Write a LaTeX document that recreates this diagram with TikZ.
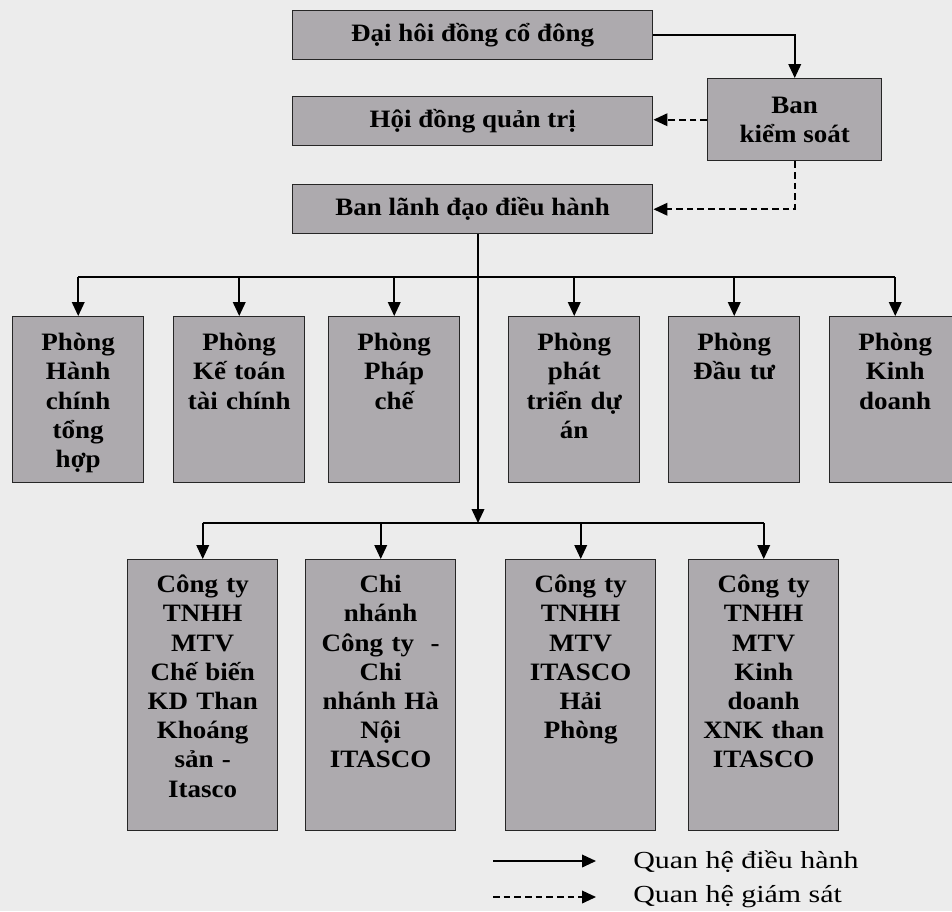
\documentclass[tikz,border=0pt]{standalone}
\usepackage{fontspec}
\setmainfont{Liberation Serif}
\newfontfamily\boxfont[FakeStretch=1.08]{Liberation Serif}
\newfontfamily\legfont[FakeStretch=1.22]{Liberation Serif}
\usetikzlibrary{calc}
\usetikzlibrary{arrows.meta}
\definecolor{paper}{RGB}{236,236,236}
\definecolor{boxgray}{RGB}{173,170,174}

\tikzset{
  unit/.style={draw=black!85, line width=1.1pt, fill=boxgray, inner sep=0pt,
    font=\boxfont\bfseries\fontsize{18.75}{21.9}\selectfont, align=center},
  board/.style={unit, minimum width=270pt, minimum height=36.75pt, anchor=north west},
  dept/.style={unit, text width=98.25pt, text height=25.5pt, text depth=99pt, anchor=north west},
  firm/.style={unit, text width=112.5pt, text height=24.75pt, text depth=178.5pt, anchor=north west},
  ctrl/.style={line width=1.2pt, -{Triangle[length=10.5pt,width=9.5pt]}},
  sup/.style={ctrl, dash pattern=on 5pt off 3pt},
}

\begin{document}
\begin{tikzpicture}[x=0.75pt, y=-0.75pt]
\useasboundingbox (0,0) rectangle (952,911);
\clip (0,0) rectangle (952,911);
\fill[paper] (0,0) rectangle (952,911);

% top of the company
\node[board] (dh) at (292,10) {Đại hôi đồng cổ đông};
\node[board] (hdqt) at (292,96) {Hội đồng quản trị};
\node[board] (bld) at (292,184) {Ban lãnh đạo điều hành};
\node[unit, minimum width=130.5pt, minimum height=61.5pt, anchor=north west] (bks) at (707,78) {Ban\\kiểm soát};

\draw[ctrl] (dh.east) -| (bks.north);
\draw[sup] (bks.west) -- (bks.west -| hdqt.east);
\draw[sup] (bks.south) |- (bld.east);

% departments
\node[dept] (p1) at (12,316) {Phòng\\Hành\\chính\\tổng\\hợp};
\node[dept] (p2) at (173,316) {Phòng\\Kế toán\\tài chính};
\node[dept] (p3) at (328,316) {Phòng\\Pháp\\chế};
\node[dept] (p4) at (508,316) {Phòng\\phát\\triển dự\\án};
\node[dept] (p5) at (668,316) {Phòng\\Đầu tư};
\node[dept] (p6) at (829,316) {Phòng\\Kinh\\doanh};

% subsidiaries
\node[firm] (c1) at (127,559) {Công ty\\TNHH\\MTV\\Chế biến\\KD Than\\Khoáng\\sản -\\Itasco};
\node[firm] (c2) at (305,559) {Chi\\nhánh\\Công ty~ -\\Chi\\nhánh Hà\\Nội\\ITASCO};
\node[firm] (c3) at (505,559) {Công ty\\TNHH\\MTV\\ITASCO\\Hải\\Phòng};
\node[firm] (c4) at (688,559) {Công ty\\TNHH\\MTV\\Kinh\\doanh\\XNK than\\ITASCO};

\coordinate (up) at (478,277);
\coordinate (lo) at (478,523);
\draw[line width=1.2pt] (p1.north |- up) -- (p6.north |- up);
\foreach \i in {1,...,6}
  \draw[ctrl] (p\i.north |- up) -- (p\i.north);
\draw[ctrl] (bld.south -| up) -- (lo);
\draw[line width=1.2pt] (c1.north |- lo) -- (c4.north |- lo);
\foreach \i in {1,...,4}
  \draw[ctrl] (c\i.north |- lo) -- (c\i.north);

% legend
\node[anchor=base west, inner sep=0pt, font=\legfont\fontsize{18.4}{21}\selectfont] (l1) at (633,868) {Quan hệ điều hành};
\node[anchor=base west, inner sep=0pt, font=\legfont\fontsize{18.4}{21}\selectfont] (l2) at (633,902) {Quan hệ giám sát};
\coordinate (k1) at (493,861);
\coordinate (k2) at (493,897);
\draw[ctrl] (k1) -- (k1 -| 596,0);
\draw[sup] (k2) -- (k2 -| 596,0);
\end{tikzpicture}
\end{document}
